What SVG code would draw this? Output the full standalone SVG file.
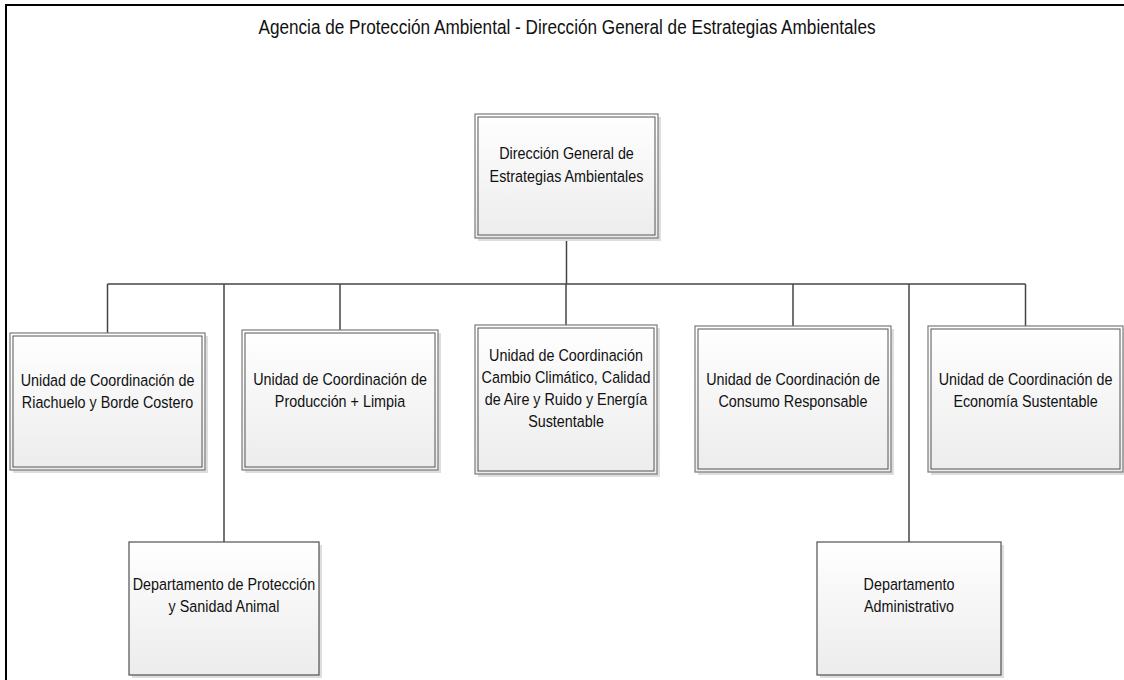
<svg xmlns="http://www.w3.org/2000/svg" width="1124" height="680" viewBox="0 0 1124 680">
<defs>
<linearGradient id="g" x1="0" y1="0" x2="0" y2="1">
<stop offset="0" stop-color="#ffffff"/>
<stop offset="1" stop-color="#ececec"/>
</linearGradient>
<style>
.sh{fill:#dedede;}
.box{fill:url(#g);stroke:#7a7a7a;stroke-width:1.2;}
.inner{fill:none;stroke:#555;stroke-width:1;}
.dept{fill:url(#g);stroke:#505050;stroke-width:1.2;}
.t{font-family:"Liberation Sans",Arial,sans-serif;font-size:16.3px;fill:#111;text-anchor:middle;}
.title{font-family:"Liberation Sans",Arial,sans-serif;font-size:19.3px;fill:#111;text-anchor:middle;}
.c{fill:none;stroke:#444;stroke-width:1.5;}
</style>
</defs>
<rect x="0" y="0" width="1124" height="680" fill="#fff"/>
<rect x="6" y="5" width="1140" height="700" fill="none" stroke="#000" stroke-width="2"/>
<g transform="translate(567 0) scale(0.89 1)"><text class="title" x="0" y="34">Agencia de Protección Ambiental - Dirección General de Estrategias Ambientales</text></g>

<g id="connectors">
<path class="c" d="M566.5 238 V284"/>
<path class="c" d="M107.5 284 H1025.5"/>
<path class="c" d="M107.5 284 V333"/>
<path class="c" d="M224 284 V542"/>
<path class="c" d="M340 284 V330"/>
<path class="c" d="M566 284 V325"/>
<path class="c" d="M793 284 V326"/>
<path class="c" d="M909 284 V542"/>
<path class="c" d="M1025.5 284 V326"/>
</g>

<g id="n-direccion">
<rect class="sh" x="478" y="117" width="183" height="124"/>
<rect class="box" x="475" y="114" width="183" height="124"/>
<rect class="inner" x="478" y="117" width="177" height="118"/>
<g transform="translate(566.5 0) scale(0.88 1)">
<text class="t" x="0" y="159">Dirección General de</text>
<text class="t" x="0" y="182">Estrategias Ambientales</text>
</g>
</g>

<g id="n-riachuelo">
<rect class="sh" x="13" y="336" width="195" height="137"/>
<rect class="box" x="10" y="333" width="195" height="137"/>
<rect class="inner" x="13" y="336" width="189" height="131"/>
<g transform="translate(107.5 0) scale(0.88 1)">
<text class="t" x="0" y="386">Unidad de Coordinación de</text>
<text class="t" x="0" y="408">Riachuelo y Borde Costero</text>
</g>
</g>

<g id="n-produccion">
<rect class="sh" x="245" y="333" width="196" height="140"/>
<rect class="box" x="242" y="330" width="196" height="140"/>
<rect class="inner" x="245" y="333" width="190" height="134"/>
<g transform="translate(340 0) scale(0.88 1)">
<text class="t" x="0" y="385">Unidad de Coordinación de</text>
<text class="t" x="0" y="407">Producción + Limpia</text>
</g>
</g>

<g id="n-cambio">
<rect class="sh" x="478" y="328" width="182" height="149"/>
<rect class="box" x="475" y="325" width="182" height="149"/>
<rect class="inner" x="478" y="328" width="176" height="143"/>
<g transform="translate(566 0) scale(0.88 1)">
<text class="t" x="0" y="361">Unidad de Coordinación</text>
<text class="t" x="0" y="383">Cambio Climático, Calidad</text>
<text class="t" x="0" y="405">de Aire y Ruido y Energía</text>
<text class="t" x="0" y="427">Sustentable</text>
</g>
</g>

<g id="n-consumo">
<rect class="sh" x="698" y="329" width="196" height="146"/>
<rect class="box" x="695" y="326" width="196" height="146"/>
<rect class="inner" x="698" y="329" width="190" height="140"/>
<g transform="translate(793 0) scale(0.88 1)">
<text class="t" x="0" y="385">Unidad de Coordinación de</text>
<text class="t" x="0" y="407">Consumo Responsable</text>
</g>
</g>

<g id="n-economia">
<rect class="sh" x="931" y="329" width="195" height="146"/>
<rect class="box" x="928" y="326" width="195" height="146"/>
<rect class="inner" x="931" y="329" width="189" height="140"/>
<g transform="translate(1025.5 0) scale(0.88 1)">
<text class="t" x="0" y="385">Unidad de Coordinación de</text>
<text class="t" x="0" y="407">Economía Sustentable</text>
</g>
</g>

<g id="n-proteccion">
<rect class="sh" x="132" y="545" width="190" height="133"/>
<rect class="dept" x="129" y="542" width="190" height="133"/>
<g transform="translate(224 0) scale(0.88 1)">
<text class="t" x="0" y="590">Departamento de Protección</text>
<text class="t" x="0" y="612">y Sanidad Animal</text>
</g>
</g>

<g id="n-administrativo">
<rect class="sh" x="820" y="545" width="184" height="133"/>
<rect class="dept" x="817" y="542" width="184" height="133"/>
<g transform="translate(909 0) scale(0.88 1)">
<text class="t" x="0" y="590">Departamento</text>
<text class="t" x="0" y="612">Administrativo</text>
</g>
</g>
</svg>
